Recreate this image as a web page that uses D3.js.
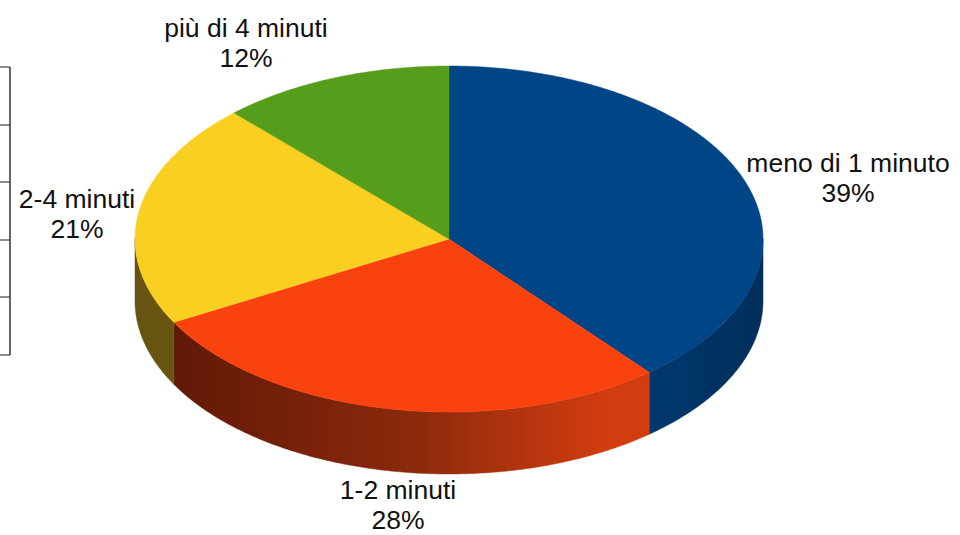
<!DOCTYPE html>
<html>
<head>
<meta charset="utf-8">
<script src="https://cdn.jsdelivr.net/npm/d3@7"></script>
<style>
  body { margin: 0; background: #fff; }
  text { font-family: "Liberation Sans", Arial, sans-serif; }
</style>
</head>
<body>
<div id="chart"></div>
<script>
// data
var categories = ["meno di 1 minuto", "1-2 minuti", "2-4 minuti", "più di 4 minuti"];
var values = [39, 28, 21, 12];
var percentLabels = ["39%", "28%", "21%", "12%"];

var topColors = ["#004586", "#fa420e", "#f9cf22", "#579d1c"];
var sideColors = [
  ["#002c56", "#003a70", "#002e5a"],
  ["#5a1606", "#8c2a0c", "#d23d10"],
  ["#675410", "#6e5a12", "#7a6414"],
  ["#3a6a12", "#3f7214", "#457c16"]
];

var svgWidth = 960;
var svgHeight = 535;

var cx = 449, cy = 239, rx = 314, ry = 173, depth = 62;

var svg = d3.select("#chart")
  .append("svg")
  .attr("width", svgWidth)
  .attr("height", svgHeight);

var defs = svg.append("defs");

// side gradients
sideColors.forEach(function(c, i) {
  var g = defs.append("linearGradient")
    .attr("id", "side" + i)
    .attr("gradientUnits", "userSpaceOnUse")
    .attr("x1", cx - rx).attr("y1", 0)
    .attr("x2", cx + rx).attr("y2", 0);
  if (i == 0) {
    g.append("stop").attr("offset", "0.65").attr("stop-color", c[0]);
    g.append("stop").attr("offset", "0.8").attr("stop-color", c[1]);
    g.append("stop").attr("offset", "1").attr("stop-color", c[2]);
  } else {
    g.append("stop").attr("offset", "0").attr("stop-color", c[0]);
    g.append("stop").attr("offset", "0.45").attr("stop-color", c[1]);
    g.append("stop").attr("offset", "0.75").attr("stop-color", c[2]);
  }
});

// the little box on the left edge
var boxG = svg.append("g");
[67, 125, 182, 240, 297, 355].forEach(function(y) {
  boxG.append("line")
    .attr("x1", 0).attr("x2", 10)
    .attr("y1", y).attr("y2", y)
    .attr("stroke", "#666")
    .attr("stroke-width", 1.5);
});
boxG.append("line")
  .attr("x1", 10).attr("x2", 10)
  .attr("y1", 67).attr("y2", 355)
  .attr("stroke", "#333")
  .attr("stroke-width", 1.5);

var pie = d3.pie().sort(null).value(function(d) { return d; });
var arcs = pie(values);

function pt(a, dy) {
  return [cx + rx * Math.sin(a), cy - ry * Math.cos(a) + dy];
}

function arcPoints(a0, a1, dy) {
  var n = Math.max(2, Math.ceil(Math.abs(a1 - a0) / 0.01));
  var pts = [];
  for (var k = 0; k <= n; k++) {
    pts.push(pt(a0 + (a1 - a0) * k / n, dy));
  }
  return pts;
}

var line = d3.line();

// sides (only the front half is visible)
var sideG = svg.append("g");
arcs.forEach(function(d, i) {
  var a0 = Math.max(d.startAngle, Math.PI / 2);
  var a1 = Math.min(d.endAngle, Math.PI * 1.5);
  if (a0 >= a1) return;
  var pts = arcPoints(a0, a1, 0).concat(arcPoints(a1, a0, depth));
  sideG.append("path")
    .attr("d", line(pts) + "Z")
    .attr("fill", "url(#side" + i + ")")
    .attr("stroke", "url(#side" + i + ")")
    .attr("stroke-width", 0.5);
});

// top faces
var topG = svg.append("g");
arcs.forEach(function(d, i) {
  var pts = [[cx, cy]].concat(arcPoints(d.startAngle, d.endAngle, 0));
  topG.append("path")
    .attr("d", line(pts) + "Z")
    .attr("fill", topColors[i])
    .attr("stroke", topColors[i])
    .attr("stroke-width", 0.5);
});

// labels
var labelPos = [[848, 172], [398, 499], [77, 208], [246, 37]];
var labelG = svg.append("g");
arcs.forEach(function(d, i) {
  var t = labelG.append("text")
    .attr("x", labelPos[i][0])
    .attr("y", labelPos[i][1])
    .attr("text-anchor", "middle")
    .attr("font-size", "26.5px")
    .attr("fill", "#111");
  t.append("tspan").attr("x", labelPos[i][0]).text(categories[i]);
  t.append("tspan").attr("x", labelPos[i][0]).attr("dy", 30).text(percentLabels[i]);
});
</script>
</body>
</html>
